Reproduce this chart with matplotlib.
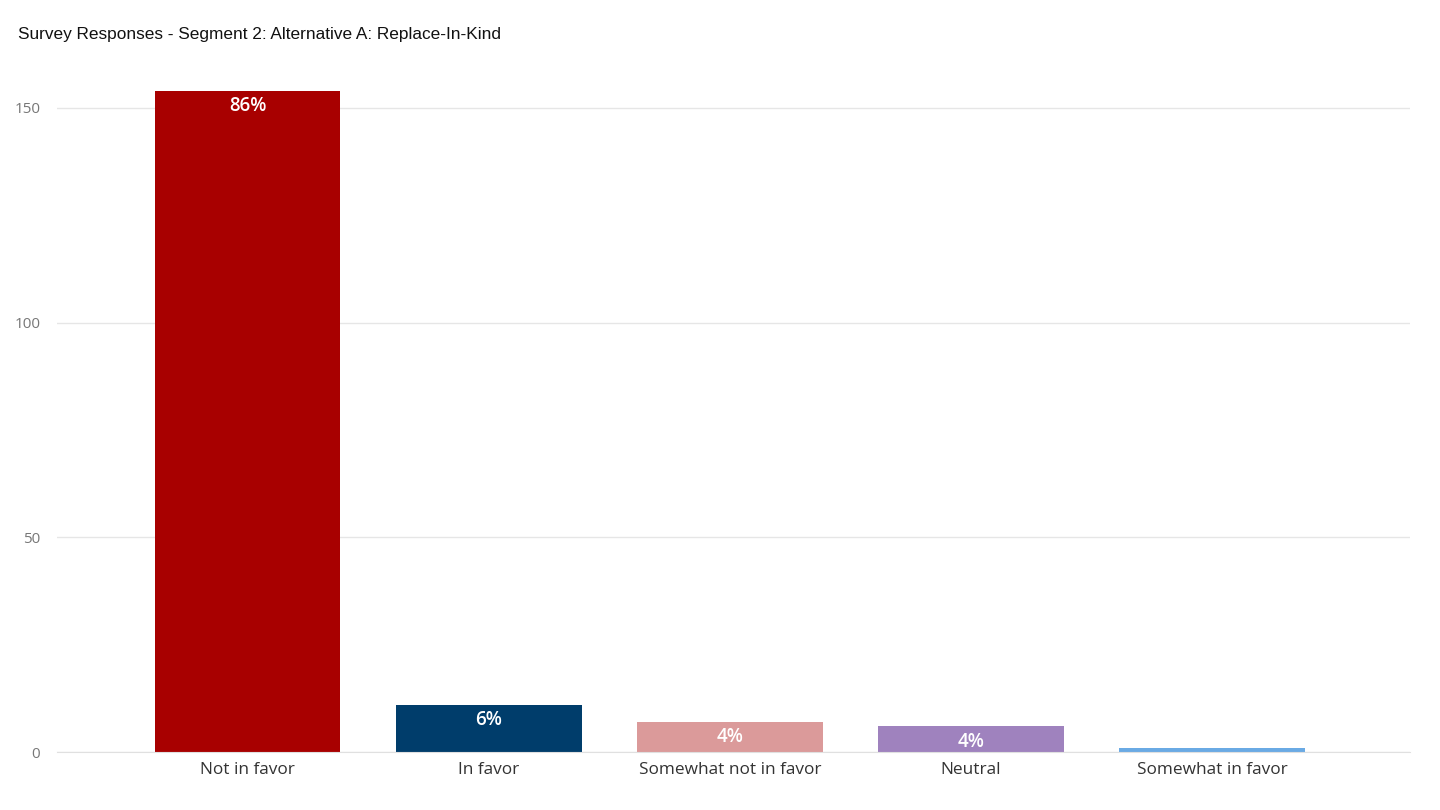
import matplotlib.pyplot as plt

# values
categories = ['Not in favor', 'In favor', 'Somewhat not in favor', 'Neutral', 'Somewhat in favor']
counts = [154, 11, 7, 6, 1]
pct_labels = ['86%', '6%', '4%', '4%', '']
colors = ['#A80000', '#003D6B', '#DB9A9A', '#9F82BE', '#6AAAE4']
y_ticks = [0, 50, 100, 150]

fig = plt.figure(figsize=(14.4, 8.1), dpi=100)
ax = fig.add_axes([0.0396, 0.0716, 0.9396, 0.835])

x = list(range(len(categories)))
bars = ax.bar(x, counts, width=0.77, color=colors, zorder=2)

for b, lab in zip(bars, pct_labels):
    if lab:
        ax.annotate(lab, (b.get_x() + b.get_width() / 2, b.get_height()),
                    xytext=(0, -4), textcoords='offset points',
                    ha='center', va='top', color='white',
                    fontsize=13.5, fontweight='semibold', family='Open Sans')

ax.set_xlim(-0.79, 4.82)
ax.set_ylim(0, 157.5)
ax.set_yticks(y_ticks)
ax.set_xticks(x)
ax.set_xticklabels(categories, fontsize=12.4, color='#333333', family='Open Sans')
ax.tick_params(axis='x', length=0, pad=7)
ax.tick_params(axis='y', length=0, pad=12, labelsize=11, labelcolor='#777777')
for lbl in ax.get_yticklabels():
    lbl.set_family('Open Sans')

ax.grid(axis='y', color='#E6E6E6', linewidth=1, zorder=0)
for s in ['top', 'right', 'left']:
    ax.spines[s].set_visible(False)
ax.spines['bottom'].set_color('#E0E0E0')

fig.text(0.0125, 0.958, 'Survey Responses - Segment 2: Alternative A: Replace-In-Kind',
         fontsize=12.4, family='Liberation Sans', color='#111111', va='center')

fig.savefig('out.png', dpi=100, facecolor='white')
